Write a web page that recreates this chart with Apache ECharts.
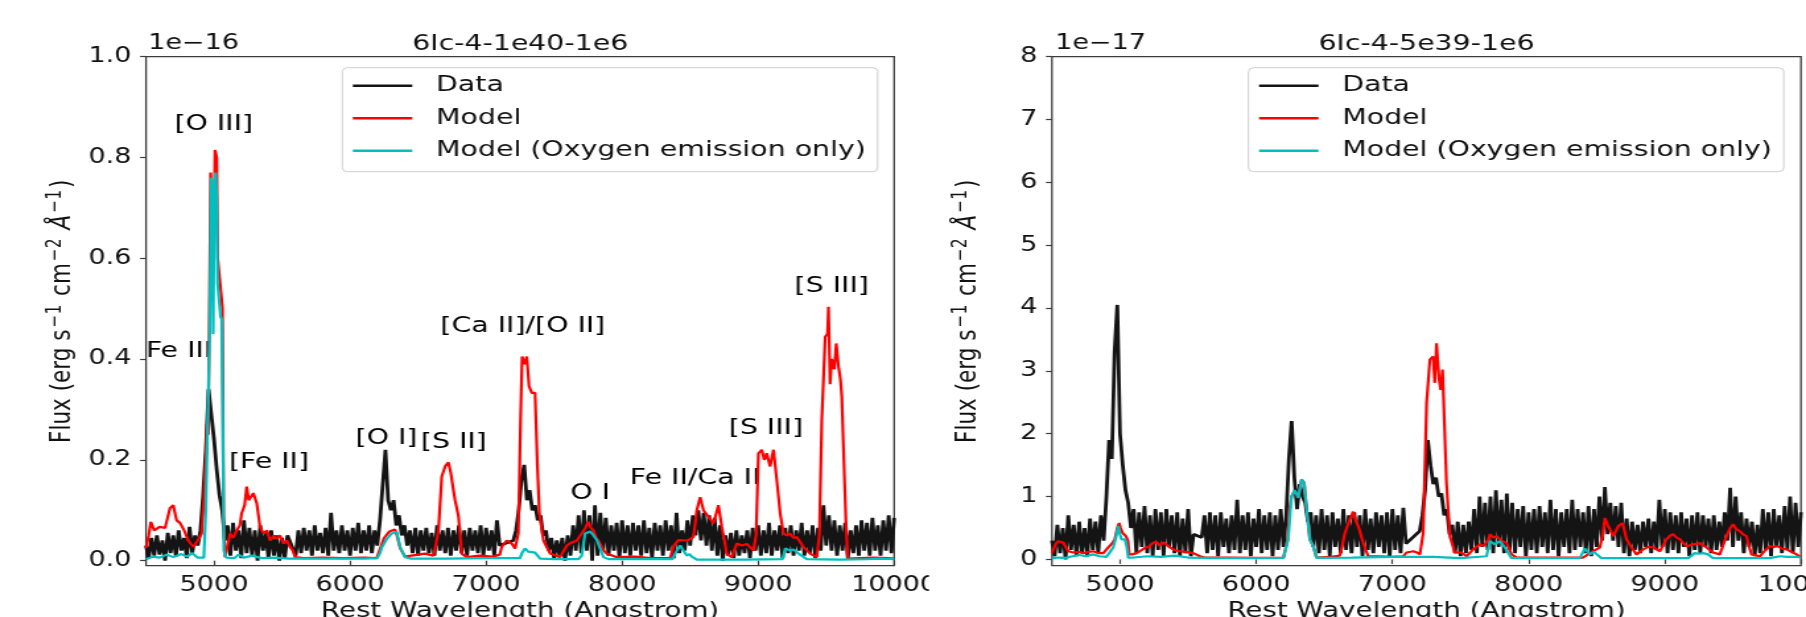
<!DOCTYPE html>
<html><head><meta charset="utf-8">
<script src="https://cdn.jsdelivr.net/npm/echarts@6/dist/echarts.min.js"></script>
<style>
html,body{margin:0;padding:0;background:#fff;overflow:hidden;}
#stage{width:1806px;height:617px;overflow:hidden;position:relative;background:#fff;}
#chart{width:1368px;height:617px;transform:scaleX(1.320175);transform-origin:0 0;}
</style></head><body><div id="stage"><div id="chart"></div></div>
<script>
// ---------- data (flux in units of the offset shown above each axis) ----------
const WAVE_START = 4500, WAVE_STEP = 20;   // observed spectrum sampling grid (Angstrom)
const xTicks = [5000, 6000, 7000, 8000, 9000, 10000];
const yTicksLeft = [0, 0.2, 0.4, 0.6, 0.8, 1.0];
const yTicksRight = [0, 1, 2, 3, 4, 5, 6, 7, 8];
const seriesNames = ['Data', 'Model', 'Model (Oxygen emission only)'];
const titles = ['6Ic-4-1e40-1e6', '6Ic-4-5e39-1e6'];
const offsets = ['1e\u221216', '1e\u221217'];

// Left panel (x 1e-16)
const dataLeft = [
 0.03,0.005,0.045,0.01,0.05,0.012,0.04,0.0,0.055,0.015,
 0.05,0.008,0.06,0.02,0.045,0.005,0.067,0.015,0.05,0.03,
 0.06,0.13,0.22,0.34,0.29,0.24,0.18,0.13,0.1,0.04,
 0.07,0.01,0.075,0.02,0.06,0.005,0.08,0.015,0.065,0.01,
 0.06,0.0,0.07,0.02,0.055,0.005,0.06,0.01,0.05,0.0,
 0.045,0.005,0.05,null,null,0.01,0.06,0.015,0.065,0.02,
 0.06,0.01,0.07,0.02,0.055,0.015,0.065,0.01,0.095,0.02,
 0.06,0.015,0.07,0.02,0.06,0.01,0.065,0.02,0.075,0.015,
 0.06,0.02,0.07,0.015,0.06,0.03,0.08,0.15,0.22,0.12,
 0.1,0.12,0.07,0.09,0.05,0.07,0.03,0.06,0.015,0.065,
 0.01,0.06,0.02,0.065,0.015,0.055,0.01,0.07,0.02,0.06,
 0.015,0.065,0.01,0.06,0.02,0.07,0.015,0.06,0.01,0.065,
 0.02,0.06,0.015,0.07,0.01,0.065,0.02,0.06,0.01,0.08,
 0.03,null,null,null,null,0.04,0.06,0.1,0.16,0.19,
 0.12,0.14,0.1,0.11,0.08,0.09,0.05,0.06,0.02,0.045,
 0.005,0.04,0.01,0.045,0.0,0.05,0.01,0.07,0.02,0.09,
 0.015,0.1,0.02,0.09,0.0,0.11,0.01,0.095,0.02,0.085,
 0.01,0.07,0.02,0.075,0.005,0.08,0.015,0.07,0.01,0.075,
 0.02,0.07,0.01,0.08,0.015,0.065,0.005,0.075,0.02,0.07,
 0.01,0.08,0.02,0.07,0.005,0.095,0.015,0.06,0.02,0.08,
 0.03,0.09,0.05,0.1,0.04,0.095,0.03,0.09,0.02,0.085,
 0.01,0.07,0.0,0.05,0.01,0.055,0.005,0.06,0.01,0.05,
 0.015,0.06,0.005,0.065,0.02,0.07,0.01,0.06,0.015,0.075,
 0.01,0.06,0.02,0.07,0.005,0.065,0.015,0.07,0.01,0.06,
 0.02,0.075,0.01,0.06,0.015,0.07,0.005,0.065,0.02,0.11,
 0.03,0.09,0.02,0.08,0.01,0.07,0.02,0.075,0.005,0.06,
 0.015,0.07,0.01,0.08,0.02,0.075,0.01,0.085,0.02,0.07,
 0.01,0.08,0.02,0.09,0.015,0.085
];
const modelLeft = [
 [4500,0.025],[4520,0.05],[4535,0.077],[4560,0.06],[4600,0.067],[4640,0.065],[4676,0.104],[4700,0.11],[4725,0.08],[4750,0.075],
 [4780,0.06],[4811,0.04],[4848,0.027],[4880,0.04],[4909,0.054],[4925,0.12],[4940,0.2],[4948,0.27],[4958,0.25],[4966,0.5],
 [4975,0.77],[4990,0.77],[4998,0.62],[5007,0.815],[5020,0.8],[5027,0.6],[5045,0.6],[5052,0.53],[5062,0.5],[5070,0.08],
 [5081,0.007],[5100,0.03],[5118,0.054],[5140,0.045],[5167,0.06],[5190,0.07],[5203,0.094],[5225,0.11],[5240,0.147],[5255,0.12],
 [5265,0.12],[5289,0.134],[5314,0.114],[5338,0.067],[5363,0.054],[5390,0.06],[5412,0.04],[5440,0.05],[5461,0.043],[5485,0.05],
 [5510,0.034],[5535,0.04],[5559,0.027],[5580,0.02],[5596,0.007],[5657,0.005],[5800,0.006],[5950,0.005],[6100,0.006],[6196,0.005],
 [6230,0.03],[6250,0.045],[6290,0.058],[6330,0.062],[6345,0.05],[6368,0.025],[6404,0.008],[6450,0.01],[6500,0.012],[6550,0.014],
 [6612,0.01],[6630,0.03],[6650,0.06],[6674,0.167],[6699,0.187],[6723,0.195],[6740,0.175],[6760,0.14],[6772,0.12],[6797,0.088],
 [6821,0.014],[6858,0.007],[6950,0.01],[7050,0.008],[7100,0.012],[7115,0.027],[7152,0.04],[7189,0.034],[7213,0.024],[7237,0.054],
 [7254,0.286],[7265,0.405],[7285,0.39],[7299,0.405],[7316,0.346],[7336,0.333],[7360,0.333],[7377,0.19],[7392,0.094],[7422,0.04],
 [7471,0.014],[7544,0.007],[7593,0.03],[7620,0.035],[7667,0.04],[7703,0.054],[7730,0.065],[7752,0.077],[7770,0.065],[7789,0.06],
 [7810,0.045],[7838,0.034],[7865,0.02],[7887,0.014],[7961,0.007],[8100,0.008],[8206,0.005],[8353,0.005],[8380,0.03],[8414,0.041],
 [8480,0.04],[8525,0.047],[8549,0.1],[8574,0.126],[8598,0.1],[8635,0.087],[8672,0.074],[8708,0.11],[8733,0.067],[8770,0.014],
 [8806,0.007],[8843,0.034],[8880,0.03],[8917,0.033],[8966,0.02],[8985,0.05],[9002,0.213],[9027,0.22],[9045,0.2],[9063,0.213],
 [9088,0.187],[9113,0.22],[9137,0.16],[9162,0.094],[9186,0.054],[9210,0.05],[9235,0.054],[9260,0.045],[9284,0.047],[9333,0.027],
 [9382,0.014],[9431,0.007],[9450,0.05],[9468,0.279],[9493,0.444],[9510,0.45],[9517,0.504],[9529,0.35],[9540,0.4],[9549,0.391],
 [9560,0.38],[9574,0.431],[9591,0.385],[9605,0.36],[9615,0.325],[9627,0.226],[9645,0.08],[9659,0.004],[9750,0.005],[9850,0.006],
 [9950,0.005],[10000,0.004]
];
const oxygenLeft = [
 [4500,0.003],[4550,0.008],[4600,0.006],[4650,0.012],[4700,0.007],[4760,0.013],[4800,0.008],[4840,0.015],[4880,0.006],[4925,0.006],
 [4940,0.1],[4950,0.238],[4960,0.24],[4968,0.45],[4978,0.76],[4986,0.7],[4994,0.45],[5002,0.75],[5012,0.77],[5020,0.72],
 [5026,0.55],[5040,0.551],[5048,0.484],[5056,0.48],[5064,0.3],[5072,0.02],[5090,0.006],[5150,0.005],[5180,0.012],[5220,0.006],
 [5280,0.01],[5350,0.005],[5450,0.006],[5550,0.004],[5700,0.004],[5900,0.004],[6100,0.004],[6200,0.005],[6220,0.015],[6235,0.027],
 [6270,0.043],[6306,0.054],[6343,0.057],[6368,0.027],[6404,0.007],[6450,0.004],[6700,0.004],[7000,0.005],[7250,0.005],[7262,0.014],
 [7286,0.024],[7310,0.018],[7323,0.02],[7360,0.016],[7397,0.004],[7500,0.003],[7680,0.003],[7703,0.01],[7728,0.054],[7765,0.058],
 [7790,0.05],[7814,0.041],[7863,0.007],[7900,0.003],[8200,0.003],[8370,0.003],[8390,0.014],[8426,0.03],[8450,0.02],[8475,0.01],
 [8495,0.013],[8512,0.008],[8549,0.002],[8900,0.002],[9180,0.003],[9199,0.024],[9235,0.02],[9260,0.022],[9297,0.014],[9358,0.003],
 [9600,0.002],[9800,0.003],[9900,0.004],[10000,0.003]
];
const annotText = ['[O III]','Fe III','[Fe II]','[O I]','[S II]','[Ca II]/[O II]','O I','Fe II/Ca II','[S III]','[S III]'];
const annotWave = [4998, 4742, 5404, 6268, 6763, 7270, 7765, 8537, 9057, 9541];
const annotFlux = [0.865, 0.415, 0.194, 0.243, 0.234, 0.464, 0.133, 0.163, 0.263, 0.544];

// Right panel (x 1e-17)
const dataRight = [
 0.3,0.05,0.55,0.1,0.5,0.0,0.7,0.15,0.55,0.05,
 0.6,0.1,0.5,0.05,0.65,0.15,0.6,0.1,0.7,0.3,
 1.0,1.9,1.6,3.3,4.05,2.0,1.5,1.1,0.9,0.5,
 0.8,0.1,0.75,0.2,0.85,0.1,0.7,0.05,0.8,0.15,
 0.75,0.05,0.8,0.2,0.7,0.1,0.75,0.05,0.65,0.1,
 0.8,0.05,0.4,null,null,0.35,0.7,0.1,0.75,0.15,
 0.7,0.05,0.75,0.2,0.65,0.1,0.7,0.15,0.95,0.1,
 0.7,0.15,0.75,0.05,0.65,0.2,0.8,0.1,0.7,0.15,
 0.75,0.05,0.7,0.15,0.8,0.2,0.7,1.6,2.2,1.3,
 0.8,1.2,1.0,0.9,0.6,0.75,0.2,0.7,0.1,0.8,
 0.15,0.7,0.05,0.75,0.2,0.65,0.1,0.8,0.15,0.7,
 0.1,0.75,0.2,0.7,0.05,0.8,0.15,0.65,0.1,0.75,
 0.2,0.7,0.1,0.75,0.05,0.8,0.15,0.7,0.1,0.82,
 0.25,null,null,null,null,0.45,0.7,1.1,1.9,1.5,
 1.2,1.3,1.0,1.05,0.7,0.8,0.4,0.55,0.1,0.6,
 0.05,0.55,0.1,0.6,0.15,0.8,0.1,1.0,0.2,0.9,
 0.15,1.0,0.1,1.1,0.2,0.95,0.1,1.05,0.15,0.9,
 0.1,0.8,0.2,0.85,0.05,0.75,0.15,0.8,0.1,0.85,
 0.2,0.75,0.1,0.95,0.15,0.8,0.05,0.75,0.2,0.8,
 0.1,0.95,0.15,0.8,0.2,0.75,0.1,0.85,0.05,0.8,
 0.2,1.0,0.3,1.15,0.4,0.9,0.3,0.85,0.2,0.9,
 0.1,0.65,0.05,0.6,0.15,0.55,0.1,0.6,0.2,0.65,
 0.1,0.6,0.15,0.95,0.2,0.8,0.1,0.75,0.15,0.7,
 0.1,0.75,0.2,0.65,0.05,0.7,0.15,0.75,0.1,0.7,
 0.2,0.65,0.1,0.7,0.15,0.6,0.2,0.75,0.3,1.14,
 0.2,1.0,0.3,0.75,0.1,0.65,0.2,0.6,0.05,0.55,
 0.1,0.8,0.15,0.75,0.05,0.8,0.2,0.7,0.1,0.85,
 0.15,1.0,0.1,0.9,0.2,0.75
];
const modelRight = [
 [4500,0.1],[4510,0.16],[4530,0.25],[4547,0.29],[4583,0.27],[4620,0.13],[4657,0.11],[4700,0.12],[4730,0.1],[4770,0.12],
 [4803,0.13],[4840,0.1],[4877,0.1],[4914,0.19],[4940,0.25],[4962,0.32],[4980,0.5],[4994,0.58],[5005,0.5],[5019,0.42],
 [5043,0.37],[5058,0.3],[5068,0.08],[5090,0.08],[5121,0.1],[5146,0.13],[5180,0.18],[5219,0.21],[5240,0.26],[5268,0.28],
 [5290,0.22],[5317,0.27],[5340,0.24],[5366,0.19],[5400,0.15],[5440,0.13],[5480,0.12],[5538,0.1],[5587,0.05],[5620,0.03],
 [5800,0.03],[6000,0.025],[6200,0.03],[6230,0.3],[6245,0.8],[6259,1.0],[6284,1.1],[6309,0.98],[6333,1.27],[6352,1.22],
 [6370,0.8],[6394,0.32],[6419,0.21],[6443,0.03],[6550,0.04],[6614,0.06],[6630,0.2],[6651,0.42],[6688,0.64],[6700,0.62],
 [6712,0.76],[6730,0.62],[6749,0.53],[6786,0.26],[6822,0.05],[6900,0.05],[7000,0.04],[7079,0.05],[7104,0.11],[7153,0.13],
 [7180,0.11],[7202,0.08],[7226,0.42],[7251,2.49],[7263,2.5],[7275,3.18],[7299,3.23],[7311,2.81],[7324,3.44],[7343,2.86],
 [7355,2.7],[7368,3.02],[7380,2.28],[7397,1.22],[7422,0.37],[7458,0.11],[7507,0.11],[7544,0.05],[7593,0.16],[7642,0.24],
 [7667,0.21],[7703,0.3],[7716,0.4],[7740,0.35],[7765,0.37],[7800,0.3],[7838,0.26],[7875,0.08],[7911,0.03],[8156,0.03],
 [8401,0.03],[8450,0.1],[8523,0.19],[8545,0.4],[8560,0.66],[8580,0.55],[8597,0.48],[8621,0.37],[8640,0.45],[8658,0.53],
 [8690,0.58],[8719,0.32],[8756,0.19],[8792,0.08],[8841,0.16],[8880,0.2],[8915,0.19],[8964,0.13],[9012,0.32],[9040,0.38],
 [9061,0.4],[9085,0.35],[9110,0.32],[9159,0.21],[9208,0.24],[9257,0.26],[9306,0.19],[9355,0.11],[9404,0.08],[9453,0.37],
 [9480,0.5],[9502,0.56],[9525,0.48],[9551,0.45],[9575,0.4],[9600,0.37],[9620,0.2],[9637,0.08],[9698,0.05],[9740,0.15],
 [9771,0.21],[9800,0.2],[9832,0.21],[9860,0.17],[9894,0.16],[9930,0.12],[9967,0.08],[10000,0.03]
];
const oxygenRight = [
 [4500,0.02],[4550,0.03],[4600,0.025],[4650,0.05],[4700,0.07],[4750,0.05],[4800,0.08],[4850,0.05],[4900,0.04],[4914,0.08],
 [4950,0.19],[4970,0.35],[4987,0.53],[5000,0.4],[5011,0.32],[5036,0.32],[5050,0.2],[5060,0.03],[5100,0.03],[5200,0.05],
 [5300,0.04],[5400,0.06],[5500,0.03],[5700,0.02],[6000,0.02],[6200,0.025],[6235,0.32],[6259,1.0],[6284,1.1],[6309,0.98],
 [6333,1.27],[6352,1.22],[6370,0.8],[6394,0.32],[6419,0.21],[6443,0.025],[6700,0.03],[7000,0.04],[7300,0.04],[7500,0.02],
 [7691,0.05],[7716,0.29],[7752,0.24],[7789,0.29],[7826,0.19],[7875,0.02],[8376,0.02],[8413,0.17],[8450,0.08],[8480,0.12],
 [8499,0.1],[8535,0.02],[9172,0.02],[9220,0.1],[9250,0.09],[9282,0.1],[9318,0.08],[9355,0.02],[9771,0.02],[9845,0.05],
 [9900,0.04],[9967,0.04],[10000,0.03]
];

// ---------- build ----------
const FONT = 'DejaVu Sans';
const TXT = '#111111';
const AX = '#3c3c3c';
const COLORS = ['#141414', '#ff0000', '#00bfbf'];

function gridded(arr) { return arr.map((v, i) => [WAVE_START + i * WAVE_STEP, v]); }

const grids = [
  {left: 110.6, top: 56.7, width: 566.7, height: 509},
  {left: 796.8, top: 56.7, width: 567.4, height: 509}
];
const yRanges = [{min: -0.01, max: 1.0, ticks: yTicksLeft, dec: 1}, {min: -0.1, max: 8, ticks: yTicksRight, dec: 0}];

const yName = '{m|Flux (erg s}{s|\u22121}{m| cm}{s|\u22122}{i| \u00c5}{s|\u22121}{m|)}';

const option = {
  animation: false,
  backgroundColor: '#fff',
  textStyle: {fontFamily: FONT},
  grid: grids.map(g => Object.assign({show: true, borderColor: AX, borderWidth: 1.3, backgroundColor: 'transparent', containLabel: false, outerBoundsMode: 'none'}, g)),
  xAxis: [0, 1].map(i => ({
    type: 'value', gridIndex: i, min: 4500, max: 10000,
    axisLine: {show: false},
    splitLine: {show: false},
    axisTick: {show: true, customValues: xTicks, length: 4.5, lineStyle: {color: AX, width: 1.2}},
    axisLabel: {show: true, customValues: xTicks, margin: 9, fontSize: 20.5, fontFamily: FONT, color: TXT, formatter: v => String(v)},
    name: 'Rest Wavelength (Angstrom)', nameLocation: 'middle', nameGap: 35,
    nameTextStyle: {fontSize: 21, fontFamily: FONT, color: TXT}
  })),
  yAxis: [0, 1].map(i => ({
    type: 'value', gridIndex: i, min: yRanges[i].min, max: yRanges[i].max,
    axisLine: {show: false},
    splitLine: {show: false},
    axisTick: {show: true, customValues: yRanges[i].ticks, length: 4.5, lineStyle: {color: AX, width: 1.2}},
    axisLabel: {show: true, customValues: yRanges[i].ticks, margin: 11, fontSize: 20.5, fontFamily: FONT, color: TXT,
      formatter: v => Number(v).toFixed(yRanges[i].dec)},
    name: yName, nameLocation: 'middle', nameRotate: 90, nameGap: 52,
    nameTextStyle: {fontFamily: FONT, color: TXT, rich: {
      m: {fontSize: 21.5, fontFamily: FONT, color: TXT, verticalAlign: 'bottom', lineHeight: 25},
      i: {fontSize: 21.5, fontFamily: FONT, fontStyle: 'italic', color: TXT, verticalAlign: 'bottom', lineHeight: 25},
      s: {fontSize: 15.5, fontFamily: FONT, color: TXT, verticalAlign: 'top', lineHeight: 25, padding: [0, 2, 0, 2]}
    }}
  })),
  legend: [0, 1].map(i => ({
    show: true, orient: 'vertical', left: i === 0 ? 259.3 : 945.7, top: 67.7,
    data: seriesNames.map(n => ({name: n, icon: 'rect'})), itemWidth: 45, itemHeight: 2.4, itemGap: 10.5,
    padding: [7, 9, 10, 8], borderColor: '#cfcfcf', borderWidth: 1, borderRadius: 4,
    backgroundColor: 'rgba(255,255,255,0.8)', selectedMode: false,
    textStyle: {fontSize: 21.5, fontFamily: FONT, color: TXT, lineHeight: 22, padding: [0, 0, 0, 13]}
  })),
  graphic: [
    {type: 'text', x: 394, y: 44, z: 50, style: {text: titles[0], font: '21.5px "DejaVu Sans"', fill: TXT, textAlign: 'center', textVerticalAlign: 'middle'}},
    {type: 'text', x: 1080.5, y: 44, z: 50, style: {text: titles[1], font: '21.5px "DejaVu Sans"', fill: TXT, textAlign: 'center', textVerticalAlign: 'middle'}},
    {type: 'text', x: 112.2, y: 44, z: 50, style: {text: offsets[0], font: '20.5px "DejaVu Sans"', fill: TXT, textAlign: 'left', textVerticalAlign: 'middle'}},
    {type: 'text', x: 799.2, y: 44, z: 50, style: {text: offsets[1], font: '20.5px "DejaVu Sans"', fill: TXT, textAlign: 'left', textVerticalAlign: 'middle'}},
    {type: 'rect', shape: {x: 703.7, y: 569, width: 66, height: 48}, style: {fill: '#fff'}, z: 100}
  ],
  series: []
};

const panels = [
  {data: dataLeft, model: modelLeft, oxygen: oxygenLeft},
  {data: dataRight, model: modelRight, oxygen: oxygenRight}
];
panels.forEach((p, i) => {
  const common = {type: 'line', xAxisIndex: i, yAxisIndex: i, symbol: 'none', showSymbol: false, silent: true, z: 3, clip: true};
  option.series.push(Object.assign({}, common, {name: seriesNames[0], data: gridded(p.data), connectNulls: true,
    lineStyle: {color: COLORS[0], width: 2.8}, itemStyle: {color: COLORS[0]}}));
  option.series.push(Object.assign({}, common, {name: seriesNames[1], data: p.model,
    lineStyle: {color: COLORS[1], width: 2.2}, itemStyle: {color: COLORS[1]}}));
  option.series.push(Object.assign({}, common, {name: seriesNames[2], data: p.oxygen,
    lineStyle: {color: COLORS[2], width: 2.2}, itemStyle: {color: COLORS[2]}}));
});
option.series.push({
  type: 'scatter', name: 'annotations', xAxisIndex: 0, yAxisIndex: 0, silent: true, z: 2,
  symbol: 'circle', symbolSize: 0.5, itemStyle: {color: '#ffffff', opacity: 1},
  data: annotText.map((t, k) => ({name: t, value: [annotWave[k], annotFlux[k]]})),
  label: {show: true, position: 'inside', formatter: '{b}', fontSize: 21.5, fontFamily: FONT, color: '#000000', opacity: 1,
    textBorderWidth: 0, textBorderColor: 'transparent', textShadowBlur: 0},
  labelLayout: {hideOverlap: false}
});

const chart = echarts.init(document.getElementById('chart'), null, {renderer: 'canvas', width: 1368, height: 617});
chart.setOption(option);
</script>
</body></html>
